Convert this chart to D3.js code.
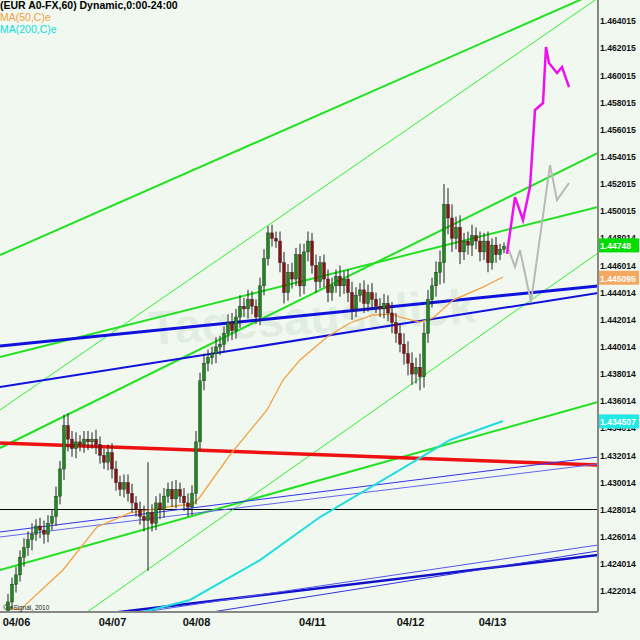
<!DOCTYPE html>
<html><head><meta charset="utf-8">
<script src="https://cdn.jsdelivr.net/npm/d3@7"></script>
<style>body{margin:0;background:#fff}svg{display:block;font-family:"Liberation Sans",Arial,sans-serif}</style>
</head><body><svg id="c" width="640" height="640"></svg>
<script>
const closes=[1.4212,1.4225,1.4232,1.4245,1.4252,1.4258,1.4262,1.4268,1.4265,1.4262,
1.4270,1.4275,1.4290,1.4310,1.4342,1.4332,1.4325,1.4330,1.4328,1.4332,
1.4330,1.4332,1.4328,1.4320,1.4315,1.4322,1.4310,1.4300,1.4295,1.4300,
1.4292,1.4285,1.4280,1.4275,1.4272,1.4278,1.4270,1.4285,1.4280,1.4290,
1.4295,1.4288,1.4295,1.4290,1.4285,1.4282,1.4292,1.4330,1.4375,1.4388,
1.4392,1.4395,1.4400,1.4402,1.4410,1.4418,1.4412,1.4422,1.4430,1.4428,
1.4435,1.4430,1.4422,1.4445,1.4465,1.4484,1.4480,1.4478,1.4462,1.4440,
1.4455,1.4450,1.4468,1.4445,1.4470,1.4478,1.4460,1.4448,1.4462,1.4450,
1.4440,1.4445,1.4452,1.4445,1.4450,1.4440,1.4428,1.4438,1.4442,1.4432,
1.4440,1.4435,1.4430,1.4428,1.4432,1.4425,1.4418,1.4410,1.4402,1.4395,
1.4388,1.4380,1.4385,1.4378,1.4410,1.4435,1.4445,1.4455,1.4462,1.4505,
1.4495,1.4480,1.4488,1.4470,1.4478,1.4475,1.4482,1.4478,1.4470,1.4478,
1.4462,1.4475,1.4468,1.4472,1.4474];
const wickPips=[6,5,6,5,7,6,8,5,6,7, 6,5,7,6,8,9,6,7,5,6, 6,5,7,6,5,6,7,6,5,6, 6,7,5,6,8,37,6,5,7,6,
5,6,7,5,6,7,6,8,6,7, 6,5,7,6,5,6,7,6,8,6, 7,6,5,6,7,5,6,5,7,8, 6,7,5,8,6,7,6,8,5,6,
7,6,5,8,6,7,8,6,5,7, 6,7,5,6,7,6,8,7,6,8, 9,8,7,10,8,7,6,8,9,15, 12,10,8,9,6,7,8,6,7,6, 7,5,6,4,3];
const dateLabels=["04/06","04/07","04/08","04/11","04/12","04/13"];
const dateIdx=[2,26,47,76,100.5,121];
const yTickVals=[1.464015,1.462015,1.460015,1.458015,1.456015,1.454015,1.452015,1.450015,1.448014,1.446014,1.444014,1.442014,1.440014,1.438014,1.436014,1.434014,1.432014,1.430014,1.428014,1.426014,1.424014,1.422014];
const ma50=[[0,1.42076],[3,1.42062],[13.75,1.42356],[22.25,1.42673],[30.5,1.42776],[39.75,1.4282],[46.25,1.42842],[48,1.42894],[55.5,1.43204],[64.75,1.43535],[68.75,1.43756],[73,1.43904],[79.75,1.44073],[85.5,1.44176],[91.25,1.44235],[96.25,1.44242],[98,1.4422],[103,1.44183],[106.25,1.44213],[111.25,1.44345],[118.75,1.44441],[123.75,1.44515]];
const ma200=[[33.75,1.42046],[45.5,1.42135],[63,1.42429],[78,1.42746],[98,1.43093],[110.5,1.43314],[123.75,1.43454]];
const magenta=[[124.75,1.44685],[126.75,1.45104],[128.75,1.44935],[130.5,1.45178],[131.75,1.45746],[133.75,1.45797],[134.5,1.4621],[135.25,1.46092],[137.25,1.46018],[138.5,1.46063],[140.25,1.45915]];
const grayPath=[[124.75,1.44751],[126.75,1.44589],[128,1.44714],[130.75,1.44331],[135.5,1.4534],[137.25,1.45082],[140.25,1.45208]];
const trend=[
[-2,1.44677,147.5,1.46615,"#22e022",2],
[-2,1.43535,147.5,1.46571,"#33ee33",1],
[-2,1.43926,147.5,1.45031,"#22e022",2],
[-2,1.43255,147.5,1.45429,"#22e022",2],
[18,1.42009,147.5,1.44692,"#33ee33",1],
[-2,1.42356,147.5,1.43594,"#22e022",2],
[-2,1.43292,147.5,1.4313,"#ee1111",3.5],
[-2,1.44006,147.5,1.44449,"#1111dd",3],
[-2,1.43704,147.5,1.44397,"#1111dd",2],
[-2,1.42636,147.5,1.43188,"#3333ee",1],
[-2,1.42599,147.5,1.43137,"#6666ee",1],
[17.25,1.42009,147.5,1.42466,"#1111cc",2.5],
[33.75,1.42046,147.5,1.4254,"#5555ee",1],
[43,1.42009,147.5,1.42496,"#3333dd",1]];
const hline=1.428014;
const tags=[["1.44748",1.44748,"#00dd00"],["1.445095",1.445095,"#f4a860"],["1.434507",1.434507,"#22e8e8"]];

const svg=d3.select("#c");
const W=598,H=612;
const x=d3.scaleLinear().domain([-2,147.5]).range([0,W]);
const y=d3.scaleLinear().domain([1.4210,1.4660]).range([604.7,-5.9]);
svg.append("rect").attr("width",640).attr("height",640).attr("fill","#f0f8f0");
svg.append("defs").append("clipPath").attr("id","cp").append("rect").attr("width",W).attr("height",H);
const g=svg.append("g").attr("clip-path","url(#cp)");
g.append("text").attr("x",150).attr("y",345).attr("font-size",48).attr("font-weight","bold").attr("fill","#e2ede2").attr("transform","rotate(-4,150,345)").text("Tagesausblick");
g.append("line").attr("x1",0).attr("x2",W).attr("y1",y(hline)).attr("y2",y(hline)).attr("stroke","#000").attr("stroke-width",1);
trend.forEach(t=>g.append("line").attr("x1",x(t[0])).attr("y1",y(t[1])).attr("x2",x(t[2])).attr("y2",y(t[3])).attr("stroke",t[4]).attr("stroke-width",t[5]));
const ln=d3.line().x(d=>x(d[0])).y(d=>y(d[1]));
g.append("path").attr("d",ln(ma50)).attr("fill","none").attr("stroke","#f4a040").attr("stroke-width",1.3);
g.append("path").attr("d",ln(ma200)).attr("fill","none").attr("stroke","#22dddd").attr("stroke-width",2);
closes.forEach((c,i)=>{
  const o=i===0?1.4205:closes[i-1];
  const hi=Math.max(o,c)+wickPips[i]*0.0001, lo=Math.min(o,c)-wickPips[i]*0.0001;
  const cx=x(i);
  g.append("line").attr("x1",cx).attr("x2",cx).attr("y1",y(hi)).attr("y2",y(lo)).attr("stroke","#222").attr("stroke-width",1);
  const top=y(Math.max(o,c)),bot=y(Math.min(o,c));
  g.append("rect").attr("x",cx-1.5).attr("y",top).attr("width",3).attr("height",Math.max(1,bot-top))
   .attr("fill",c>=o?"#1a8a1a":"#8b1010").attr("stroke","#222").attr("stroke-width",0.4);
});
g.append("path").attr("d",ln(grayPath)).attr("fill","none").attr("stroke","#b8b8b8").attr("stroke-width",2);
g.append("path").attr("d",ln(magenta)).attr("fill","none").attr("stroke","#ee11ee").attr("stroke-width",2.5);
svg.append("line").attr("x1",W).attr("x2",W).attr("y1",0).attr("y2",H).attr("stroke","#888").attr("stroke-width",2);
svg.append("line").attr("x1",0).attr("x2",W).attr("y1",H).attr("y2",H).attr("stroke","#888").attr("stroke-width",2);
const ya=svg.append("g").attr("transform",`translate(${W},0)`).call(d3.axisRight(y).tickValues(yTickVals).tickSize(0).tickPadding(2).tickFormat(d3.format(".6f")));
ya.select(".domain").remove();
ya.selectAll("text").attr("font-size",8.6).attr("font-weight","bold").attr("fill","#111").attr("font-family","Liberation Sans,Arial");
tags.forEach(t=>{
  svg.append("rect").attr("x",W+1).attr("y",y(t[1])-7).attr("width",40).attr("height",14).attr("fill",t[2]);
  svg.append("text").attr("x",W+2).attr("y",y(t[1])+4).attr("font-size",8.6).attr("font-weight","bold").attr("fill","#fff").text(t[0]);
});
const xa=svg.append("g").attr("transform",`translate(0,${H})`).call(d3.axisBottom(x).tickValues(dateIdx).tickSize(0).tickPadding(6).tickFormat((d,i)=>dateLabels[i]));
xa.select(".domain").remove();
xa.selectAll("text").attr("font-size",11).attr("font-weight","bold").attr("fill","#111").attr("font-family","Liberation Sans,Arial");
svg.append("text").attr("x",3).attr("y",610).attr("font-size",6.5).attr("fill","#222").text("© eSignal, 2010");
svg.append("text").attr("x",0).attr("y",9).attr("font-size",10.5).attr("font-weight","bold").attr("fill","#000").text("(EUR A0-FX,60) Dynamic,0:00-24:00");
svg.append("text").attr("x",0).attr("y",21).attr("font-size",10.5).attr("fill","#f4a040").text("MA(50,C)e");
svg.append("text").attr("x",0).attr("y",33).attr("font-size",10.5).attr("fill","#11dddd").text("MA(200,C)e");
</script></body></html>
